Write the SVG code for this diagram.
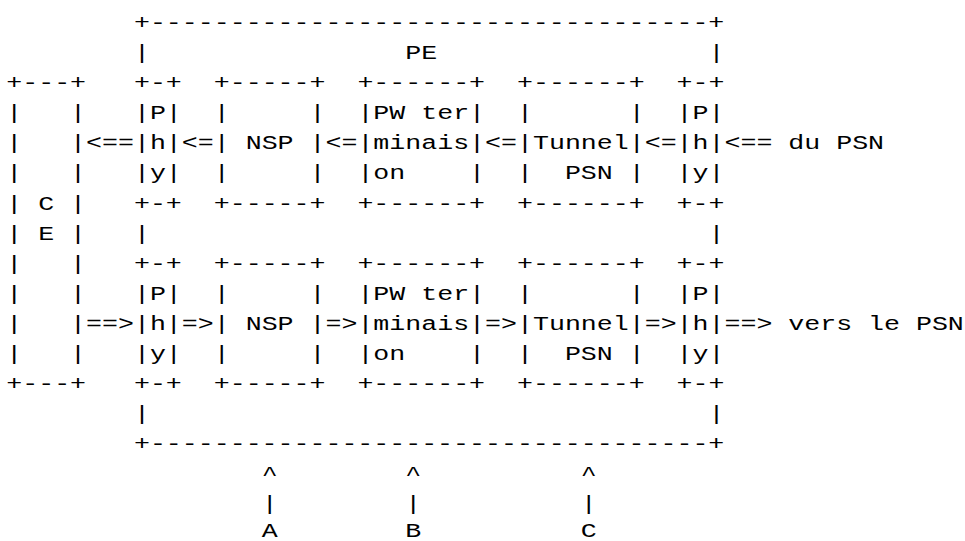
<svg xmlns="http://www.w3.org/2000/svg" width="965" height="541" viewBox="0 0 965 541">
  <style>
    text { font-family: "Liberation Mono", "Courier New", monospace; font-size: 21px; fill: #000; white-space: pre; }
  </style>
  <rect width="965" height="541" fill="#fff"/>
  <!-- monospace grid: column c at x = 4.97 + 12.6*c (before horizontal stretch), row r at y = 29 + 30.1*r -->
  <g transform="scale(1.26667,1)">
    <g id="pe">
      <text x="105.77" y="29">+-----------------------------------+</text>
      <text x="105.77" y="59.1">|</text>
      <text x="319.97" y="59.1">PE</text>
      <text x="559.37" y="59.1">|</text>
      <text x="105.77" y="239.7">|</text>
      <text x="559.37" y="239.7">|</text>
      <text x="105.77" y="420.3">|</text>
      <text x="559.37" y="420.3">|</text>
      <text x="105.77" y="450.4">+-----------------------------------+</text>
    </g>
    <g id="ce">
      <text x="4.97" y="89.2">+---+</text>
      <text x="4.97" y="119.3">|   |</text>
      <text x="4.97" y="149.4">|   |</text>
      <text x="4.97" y="179.5">|   |</text>
      <text x="4.97" y="209.6">| C |</text>
      <text x="4.97" y="239.7">| E |</text>
      <text x="4.97" y="269.8">|   |</text>
      <text x="4.97" y="299.9">|   |</text>
      <text x="4.97" y="330">|   |</text>
      <text x="4.97" y="360.1">|   |</text>
      <text x="4.97" y="390.2">+---+</text>
    </g>
    <g id="phy-ce-in">
      <text x="105.77" y="89.2">+-+</text>
      <text x="105.77" y="119.3">|P|</text>
      <text x="105.77" y="149.4">|h|</text>
      <text x="105.77" y="179.5">|y|</text>
      <text x="105.77" y="209.6">+-+</text>
    </g>
    <g id="nsp-in">
      <text x="168.77" y="89.2">+-----+</text>
      <text x="168.77" y="119.3">|     |</text>
      <text x="168.77" y="149.4">| NSP |</text>
      <text x="168.77" y="179.5">|     |</text>
      <text x="168.77" y="209.6">+-----+</text>
    </g>
    <g id="pw-in">
      <text x="282.17" y="89.2">+------+</text>
      <text x="282.17" y="119.3">|PW ter|</text>
      <text x="282.17" y="149.4">|minais|</text>
      <text x="282.17" y="179.5">|on    |</text>
      <text x="282.17" y="209.6">+------+</text>
    </g>
    <g id="tunnel-in">
      <text x="408.17" y="89.2">+------+</text>
      <text x="408.17" y="119.3">|      |</text>
      <text x="408.17" y="149.4">|Tunnel|</text>
      <text x="408.17" y="179.5">|  PSN |</text>
      <text x="408.17" y="209.6">+------+</text>
    </g>
    <g id="phy-psn-in">
      <text x="534.17" y="89.2">+-+</text>
      <text x="534.17" y="119.3">|P|</text>
      <text x="534.17" y="149.4">|h|</text>
      <text x="534.17" y="179.5">|y|</text>
      <text x="534.17" y="209.6">+-+</text>
    </g>
    <g id="phy-ce-out">
      <text x="105.77" y="269.8">+-+</text>
      <text x="105.77" y="299.9">|P|</text>
      <text x="105.77" y="330">|h|</text>
      <text x="105.77" y="360.1">|y|</text>
      <text x="105.77" y="390.2">+-+</text>
    </g>
    <g id="nsp-out">
      <text x="168.77" y="269.8">+-----+</text>
      <text x="168.77" y="299.9">|     |</text>
      <text x="168.77" y="330">| NSP |</text>
      <text x="168.77" y="360.1">|     |</text>
      <text x="168.77" y="390.2">+-----+</text>
    </g>
    <g id="pw-out">
      <text x="282.17" y="269.8">+------+</text>
      <text x="282.17" y="299.9">|PW ter|</text>
      <text x="282.17" y="330">|minais|</text>
      <text x="282.17" y="360.1">|on    |</text>
      <text x="282.17" y="390.2">+------+</text>
    </g>
    <g id="tunnel-out">
      <text x="408.17" y="269.8">+------+</text>
      <text x="408.17" y="299.9">|      |</text>
      <text x="408.17" y="330">|Tunnel|</text>
      <text x="408.17" y="360.1">|  PSN |</text>
      <text x="408.17" y="390.2">+------+</text>
    </g>
    <g id="phy-psn-out">
      <text x="534.17" y="269.8">+-+</text>
      <text x="534.17" y="299.9">|P|</text>
      <text x="534.17" y="330">|h|</text>
      <text x="534.17" y="360.1">|y|</text>
      <text x="534.17" y="390.2">+-+</text>
    </g>
    <g id="connectors">
      <!-- receive path, from the PSN towards the CE -->
      <text x="67.97" y="149.4">&lt;==</text>
      <text x="143.57" y="149.4">&lt;=</text>
      <text x="256.97" y="149.4">&lt;=</text>
      <text x="382.97" y="149.4">&lt;=</text>
      <text x="508.97" y="149.4">&lt;=</text>
      <text x="571.97" y="149.4">&lt;==</text>
      <text x="622.37" y="149.4">du PSN</text>
      <!-- send path, from the CE towards the PSN -->
      <text x="67.97" y="330">==&gt;</text>
      <text x="143.57" y="330">=&gt;</text>
      <text x="256.97" y="330">=&gt;</text>
      <text x="382.97" y="330">=&gt;</text>
      <text x="508.97" y="330">=&gt;</text>
      <text x="571.97" y="330">==&gt;</text>
      <text x="622.37" y="330">vers le PSN</text>
    </g>
    <g id="reference-points">
      <text x="206.57" y="480.5">^</text>
      <text x="319.97" y="480.5">^</text>
      <text x="458.57" y="480.5">^</text>
      <text x="206.57" y="509.6">|</text>
      <text x="319.97" y="509.6">|</text>
      <text x="458.57" y="509.6">|</text>
      <text x="206.57" y="537.5">A</text>
      <text x="319.97" y="537.5">B</text>
      <text x="458.57" y="537.5">C</text>
    </g>
  </g>
</svg>
